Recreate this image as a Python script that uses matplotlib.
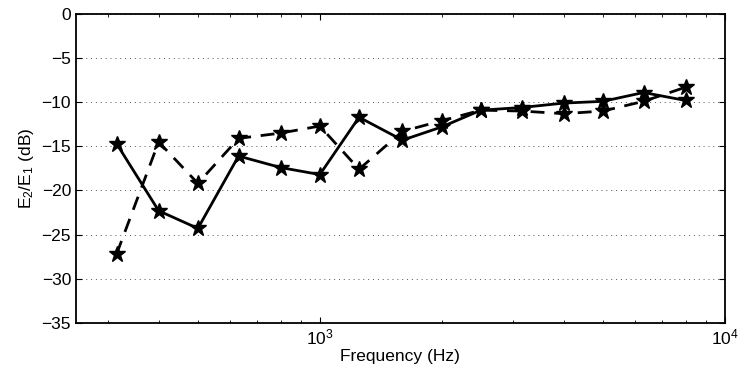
import matplotlib
matplotlib.use("Agg")
import matplotlib.pyplot as plt
from matplotlib.ticker import LogLocator, NullFormatter

plt.rcParams['font.family'] = ['Liberation Sans', 'DejaVu Sans']
plt.rcParams['mathtext.default'] = 'regular'

freq = [315, 400, 500, 630, 800, 1000, 1250, 1600, 2000, 2500, 3150, 4000, 5000, 6300, 8000]
solid = [-14.7, -22.3, -24.3, -16.1, -17.4, -18.2, -11.7, -14.3, -12.8, -10.9, -10.6, -10.1, -9.9, -8.9, -9.8]
dashed = [-27.2, -14.5, -19.2, -14.1, -13.5, -12.7, -17.6, -13.3, -12.1, -10.9, -11.0, -11.3, -11.0, -9.9, -8.3]
yticks = [0, -5, -10, -15, -20, -25, -30, -35]

fig = plt.figure(figsize=(7.39, 3.78), dpi=100)
ax = fig.add_axes([0.1028, 0.146, 0.878, 0.817])

ax.plot(freq, solid, '-', color='black', lw=2, marker='*', ms=12)
ax.plot(freq, dashed, '--', color='black', lw=2, marker='*', ms=12, dashes=(5, 3.5))

ax.set_xscale('log')
ax.set_xlim(250, 10000)
ax.set_ylim(-35, 0)
ax.set_yticks(yticks)
ax.set_yticklabels([str(v).replace('-', '\u2212') for v in yticks])
ax.xaxis.set_major_locator(LogLocator(base=10, numticks=10))
ax.xaxis.set_minor_locator(LogLocator(base=10, subs=range(2, 10), numticks=10))
ax.xaxis.set_minor_formatter(NullFormatter())
ax.grid(axis='y', which='major', linestyle=(0, (1, 4)), color='#555555', lw=0.7)
ax.tick_params(direction='in', which='both', top=True, right=True, labelsize=12.5)
ax.tick_params(which='major', length=4)
ax.tick_params(which='minor', length=2.5)
for s in ax.spines.values():
    s.set_linewidth(1.3)

ax.set_xlabel('Frequency (Hz)', fontsize=12.5, labelpad=1)
ax.set_ylabel('E$_2$/E$_1$ (dB)', fontsize=12.5, labelpad=4)

fig.savefig('out.png', dpi=100)
